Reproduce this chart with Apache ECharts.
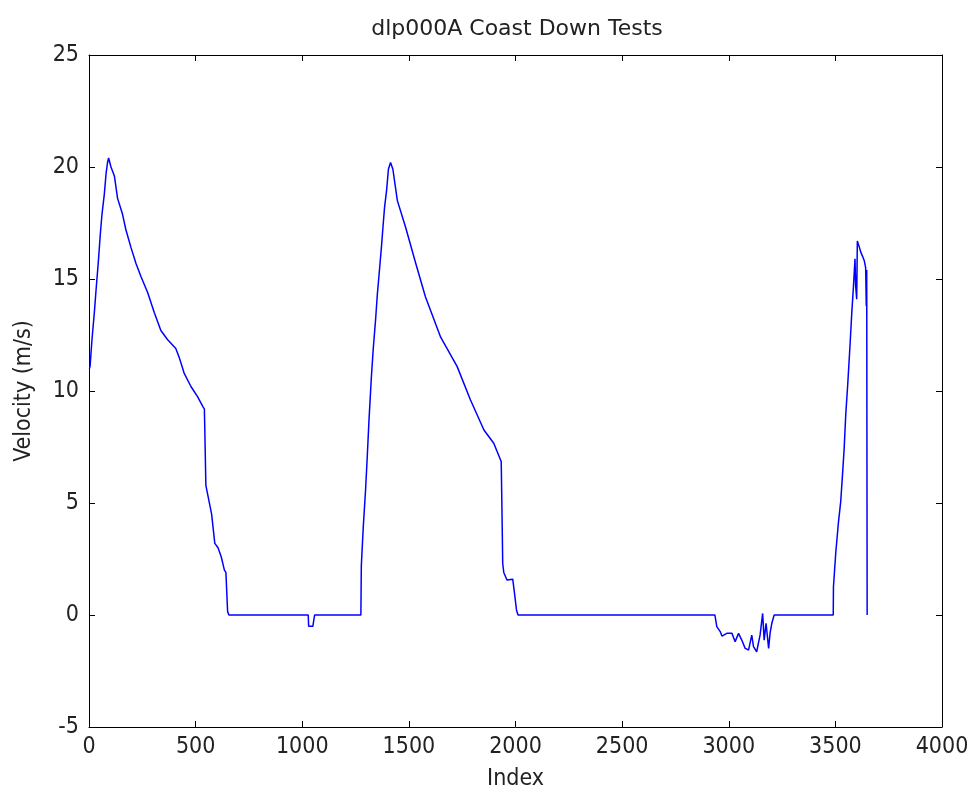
<!DOCTYPE html>
<html>
<head>
<meta charset="utf-8">
<script src="https://cdn.jsdelivr.net/npm/echarts@6/dist/echarts.min.js"></script>
<style>html,body{margin:0;padding:0;background:#fff;}#c{width:970px;height:797px;}</style>
</head>
<body>
<div id="c"></div>
<script>
// Sample index values (x) and velocities (y, m/s)
var indexValues = [
  2, 5, 14, 25, 33, 44, 53, 61, 72, 80, 87, 92,
  103, 119, 134, 157, 173, 197, 220, 244, 275, 306, 337, 368, 407, 423, 446, 478, 509, 534, 541,
  543, 548, 552, 575, 590, 605, 620, 635, 642, 650, 656,
  1028, 1030, 1050, 1053, 1058, 1275,
  1277, 1286, 1297, 1305, 1313, 1324, 1333, 1344, 1352, 1363, 1372, 1380, 1386, 1396, 1404, 1414,
  1425, 1446, 1485, 1532, 1578, 1649, 1726, 1789, 1852, 1898, 1933,
  1937, 1940, 1945, 1960, 1987, 1995, 2005, 2012,
  2935, 2944, 2960, 2968, 2991, 3015, 3030, 3046, 3061, 3077, 3093, 3108, 3116, 3131, 3147, 3159, 3166, 3175, 3187, 3194, 3202, 3213,
  3490, 3491, 3502, 3514, 3525, 3533, 3541, 3549, 3558, 3569, 3577, 3585, 3592, 3595, 3600, 3603,
  3613, 3619, 3628, 3636, 3642, 3645, 3647, 3649
];
var velocityValues = [
  11.0, 11.1, 12.3, 13.5, 14.5, 15.8, 17.0, 17.9, 18.8, 19.7, 20.2, 20.4,
  20.0, 19.6, 18.6, 17.9, 17.2, 16.4, 15.7, 15.1, 14.4, 13.5, 12.7, 12.3, 11.9, 11.5, 10.8, 10.2, 9.75, 9.3, 9.2,
  8.3, 5.8, 5.6, 4.5, 3.2, 3.0, 2.6, 2.0, 1.9, 0.15, 0,
  0, -0.5, -0.5, -0.3, 0, 0,
  2.2, 3.9, 5.6, 7.1, 8.7, 10.6, 11.9, 13.2, 14.3, 15.5, 16.5, 17.5, 18.2, 19.0, 19.9, 20.2,
  19.9, 18.5, 17.3, 15.7, 14.2, 12.4, 11.1, 9.6, 8.26, 7.67, 6.85,
  4.4, 2.3, 1.9, 1.56, 1.6, 1.0, 0.2, 0,
  0, -0.52, -0.74, -0.94, -0.82, -0.82, -1.19, -0.82, -1.12, -1.49, -1.56, -0.9, -1.41, -1.64, -0.89, 0.07, -1.12, -0.37, -1.49, -0.8, -0.37, 0,
  0, 1.26, 2.8, 4.1, 5.06, 6.2, 7.4, 9.0, 10.3, 12.1, 13.5, 14.7, 15.9, 14.7, 14.1, 16.7,
  16.4, 16.2, 16.0, 15.8, 15.5, 13.8, 15.4, 0
];
var xTicks = [0, 500, 1000, 1500, 2000, 2500, 3000, 3500, 4000];
var yTicks = [-5, 0, 5, 10, 15, 20, 25];

var points = indexValues.map(function (x, i) { return [x, velocityValues[i]]; });

var font = '"DejaVu Sans Condensed", "Liberation Sans", Arial, sans-serif';
var titleFont = '"DejaVu Sans", Arial, sans-serif';
var chart = echarts.init(document.getElementById('c'), null, {renderer: 'canvas'});
var axisLine = {show: true, onZero: false, lineStyle: {color: '#000', width: 1}};
var tick = {show: true, inside: true, length: 6, lineStyle: {color: '#000'}};
var plain = function (v) { return String(v); };
chart.setOption({
  backgroundColor: '#fff',
  animation: false,
  title: {
    text: 'dlp000A Coast Down Tests',
    left: 512, textAlign: 'center', top: 13,
    textStyle: {fontFamily: titleFont, fontSize: 22, fontWeight: 'normal', color: '#222'}
  },
  grid: {left: 89, right: 28, top: 55, bottom: 70, outerBoundsMode: 'none', containLabel: false},
  xAxis: [{
    type: 'value', position: 'bottom', min: xTicks[0], max: xTicks[xTicks.length - 1], interval: 500,
    name: 'Index', nameLocation: 'middle', nameGap: 41,
    nameTextStyle: {fontFamily: font, fontSize: 23, color: '#222'},
    axisLine: axisLine, axisTick: tick, splitLine: {show: false},
    axisLabel: {fontFamily: font, fontSize: 23, color: '#222', margin: 9, formatter: plain}
  }, {
    type: 'value', position: 'top', min: xTicks[0], max: xTicks[xTicks.length - 1], interval: 500,
    axisLine: axisLine, axisTick: tick, splitLine: {show: false}, axisLabel: {show: false}
  }],
  yAxis: [{
    type: 'value', position: 'left', min: yTicks[0], max: yTicks[yTicks.length - 1], interval: 5,
    name: 'Velocity (m/s)', nameLocation: 'middle', nameGap: 53,
    nameTextStyle: {fontFamily: font, fontSize: 23, color: '#222'},
    axisLine: axisLine, axisTick: tick, splitLine: {show: false},
    axisLabel: {fontFamily: font, fontSize: 23, color: '#222', margin: 10, formatter: plain}
  }, {
    type: 'value', position: 'right', min: yTicks[0], max: yTicks[yTicks.length - 1], interval: 5,
    axisLine: axisLine, axisTick: tick, splitLine: {show: false}, axisLabel: {show: false}
  }],
  series: [{
    type: 'line', data: points, showSymbol: false, symbol: 'none',
    lineStyle: {color: '#0000ff', width: 1.5}, itemStyle: {color: '#0000ff'}
  }]
});
</script>
</body>
</html>
